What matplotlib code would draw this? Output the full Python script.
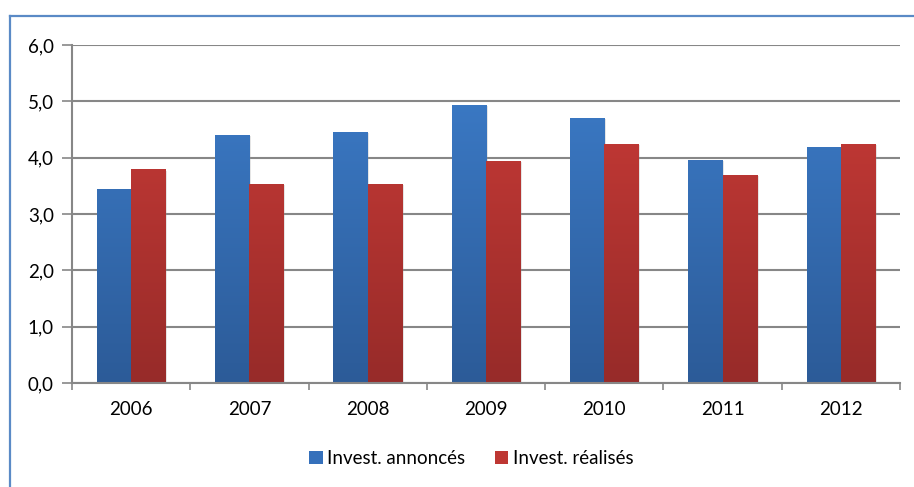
import matplotlib
matplotlib.use("Agg")
import matplotlib.pyplot as plt
import numpy as np
from matplotlib.colors import LinearSegmentedColormap
from matplotlib.lines import Line2D
from matplotlib.patches import Patch
import matplotlib.patheffects as pe

years = ["2006", "2007", "2008", "2009", "2010", "2011", "2012"]
annonces = [3.45, 4.40, 4.45, 4.94, 4.70, 3.96, 4.19]
realises = [3.79, 3.53, 3.54, 3.94, 4.24, 3.70, 4.25]
series_labels = ["Invest. annoncés", "Invest. réalisés"]
yticks = [0, 1, 2, 3, 4, 5, 6]

plt.rcParams["font.family"] = ["Lato", "DejaVu Sans"]
FS = 13.5

fig = plt.figure(figsize=(9.14, 4.87), dpi=100)
ax = fig.add_axes([0.0788, 0.2136, 0.9059, 0.694])

# outer chart frame (left and top edges)
frame_col = "#5A8AC6"
fig.add_artist(Line2D([0.0105, 0.0105], [0.0, 0.967], transform=fig.transFigure,
                      color=frame_col, lw=1.6))
fig.add_artist(Line2D([0.0105, 1.0], [0.967, 0.967], transform=fig.transFigure,
                      color=frame_col, lw=1.6))

x = np.arange(len(years))
w = 0.29

grad_blue = LinearSegmentedColormap.from_list("gb", ["#2C5B98", "#3D7ECC"])
grad_red = LinearSegmentedColormap.from_list("gr", ["#972B29", "#CD3C38"])

shadow = [pe.SimplePatchShadow(offset=(1.2, -0.8), shadow_rgbFace="#9a9a9a", alpha=0.25),
          pe.Normal()]

bars_a = ax.bar(x - w / 2, annonces, w, color="#3A75C0", zorder=3, path_effects=shadow)
bars_r = ax.bar(x + w / 2, realises, w, color="#C23934", zorder=3, path_effects=shadow)

ymax = 6.0
grad = np.linspace(0, 1, 256).reshape(-1, 1)
for bars, cmap in ((bars_a, grad_blue), (bars_r, grad_red)):
    for b in bars:
        x0, bw, h = b.get_x(), b.get_width(), b.get_height()
        # gradient spans the full axis height so colours depend on position
        im = ax.imshow(grad, cmap=cmap, origin="lower", aspect="auto",
                       extent=(x0, x0 + bw, 0, ymax), zorder=4,
                       interpolation="bilinear")
        im.set_clip_path(b)

ax.set_xlim(-0.5, len(years) - 0.5)
ax.set_ylim(0, ymax)

grid_col = "#878787"
ax.set_yticks(yticks)
ax.set_yticklabels([f"{v:.1f}".replace(".", ",") for v in yticks])
ax.yaxis.grid(True, color=grid_col, lw=1.5, zorder=1)
ax.set_axisbelow(True)

ax.set_xticks(x)
ax.set_xticklabels(years)
ax.set_xticks(np.arange(-0.5, len(years)), minor=True)
ax.tick_params(axis="x", which="major", length=0, pad=13, labelsize=FS, colors="#000000")
ax.tick_params(axis="x", which="minor", length=5, width=1.2, color=grid_col, direction="out")
ax.tick_params(axis="y", length=7, width=1.2, color=grid_col, pad=6, labelsize=FS)

for s in ("top", "right"):
    ax.spines[s].set_visible(False)
for s in ("left", "bottom"):
    ax.spines[s].set_color(grid_col)
    ax.spines[s].set_linewidth(1.5)
ax.spines["bottom"].set_zorder(5)

handles = [Patch(facecolor="#3570BB", edgecolor="none"),
           Patch(facecolor="#BE3733", edgecolor="none")]
fig.legend(handles, series_labels, loc="center", bbox_to_anchor=(0.516, 0.0575),
           ncol=2, frameon=False, fontsize=FS, handlelength=0.7, handleheight=0.7,
           handletextpad=0.25, columnspacing=1.6)

fig.savefig("out.png", dpi=100)
